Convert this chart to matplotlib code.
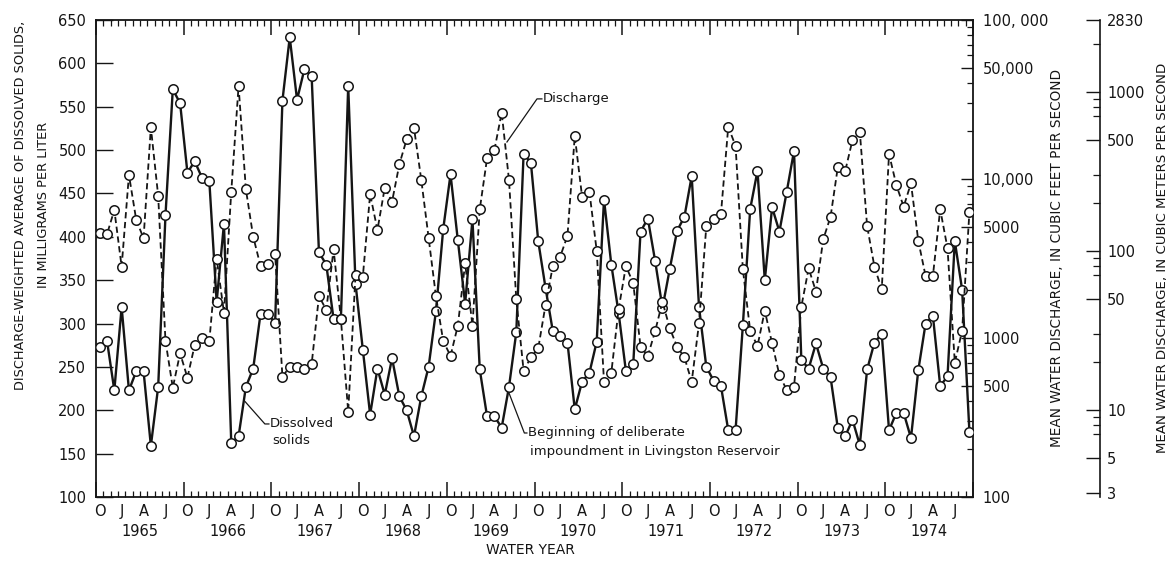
import numpy as np
import matplotlib
matplotlib.use("Agg")
import matplotlib.pyplot as plt
from matplotlib.ticker import FixedLocator, FixedFormatter, NullFormatter
import matplotlib.transforms as mtransforms

plt.rcParams['font.family'] = ['DejaVu Sans']
plt.rcParams['lines.scale_dashes'] = False

# ---------------- data ----------------
water_years = ["1965", "1966", "1967", "1968", "1969",
               "1970", "1971", "1972", "1973", "1974"]
month_letters = ["O", "J", "A", "J"]
month_letter_index = [0, 3, 6, 9]

# discharge-weighted average dissolved solids, mg/L (Oct 1964 .. Sep 1974)
dissolved_solids = [
    273, 280, 223, 319, 223, 245, 245, 159, 227, 425, 570, 554,
    474, 487, 468, 464, 325, 415, 162, 170, 227, 248, 311, 311,
    301, 557, 630, 558, 593, 585, 382, 368, 305, 305, 574, 346,
    270, 195, 248, 218, 260, 216, 200, 170, 216, 250, 314, 409,
    472, 396, 323, 420, 247, 193, 193, 180, 227, 290, 496, 485,
    395, 341, 291, 286, 278, 201, 233, 243, 279, 443, 368, 312,
    245, 253, 406, 421, 372, 318, 363, 407, 423, 470, 319, 250,
    234, 228, 177, 177, 298, 432, 476, 350, 434, 406, 452, 499,
    258, 248, 277, 248, 238, 179, 170, 189, 160, 247, 278, 288,
    177, 197, 197, 168, 246, 300, 309, 228, 239, 395, 339, 175,
]

# mean water discharge, cubic feet per second
discharge_cfs = [
    4550, 4500, 6380, 2810, 10600, 5520, 4240, 21100, 7820, 957, 487, 801,
    563, 903, 995, 957, 3160, 1443, 8320, 38400, 8610, 4340, 2840, 2920,
    3360, 571, 659, 654, 636, 686, 1837, 1500, 3611, 1312, 344, 2490,
    2430, 8010, 4780, 8810, 7200, 12370, 17770, 21020, 9860, 4275, 1837, 957,
    771, 1196, 2950, 1196, 6450, 13490, 15210, 26120, 9860, 1750, 622, 756,
    861, 1613, 2837, 3246, 4385, 18640, 7740, 8320, 3540, 531, 605, 1520,
    2837, 2208, 881, 771, 1107, 1690, 1151, 881, 756, 531, 1236, 5060,
    5580, 6026, 21320, 16130, 2704, 1111, 891, 1485, 925, 585, 471, 494,
    1574, 2744, 1960, 4178, 5790, 11950, 11220, 17580, 19860, 5060, 2808, 2024,
    14360, 9160, 6700, 9400, 4090, 2455, 2455, 6450, 3665, 700, 1111, 6230,
]

solids_ticks = [100, 150, 200, 250, 300, 350, 400, 450, 500, 550, 600, 650]
cfs_ticks = [100, 500, 1000, 5000, 10000, 50000, 100000]
cfs_tick_labels = ["100", "500", "1000", "5000", "10,000", "50,000", "100, 000"]
cms_ticks = [3, 5, 10, 50, 100, 500, 1000, 2830]
cms_tick_labels = ["3", "5", "10", "50", "100", "500", "1000", "2830"]
cms_extra_ticks = [20, 30, 200, 300, 2000]
CFS_TO_CMS = 0.0283168

n_months = len(dissolved_solids)
x = np.arange(n_months) + 0.5

ink = '#151515'

fig = plt.figure(figsize=(11.7, 5.61), dpi=100)
ax = fig.add_axes([0.0821, 0.1141, 0.7496, 0.8503])
ax2 = ax.twinx()
ax3 = ax.twinx()

# ---------------- series ----------------
ax.plot(x, dissolved_solids, '-', color=ink, lw=1.7, marker='o', ms=6.8,
        mfc='white', mec=ink, mew=1.1, zorder=3)
ax2.plot(x, discharge_cfs, color=ink, lw=1.3, ls=(0, (4.5, 2.6)), marker='o',
         ms=6.8, mfc='white', mec=ink, mew=1.1, zorder=3)

# ---------------- main axes ----------------
ax.set_xlim(0, n_months)
ax.set_ylim(100, 650)
for s in ax.spines.values():
    s.set_linewidth(1.3)
    s.set_color(ink)
ax.xaxis.set_major_locator(FixedLocator(np.arange(0, n_months + 1, 12)))
ax.xaxis.set_minor_locator(FixedLocator(np.arange(0, n_months + 1, 1)))
ax.xaxis.set_major_formatter(NullFormatter())
ax.tick_params(axis='x', which='both', direction='in', top=True, bottom=True,
               labelbottom=False, color=ink)
ax.tick_params(axis='x', which='major', length=11, width=1.1)
ax.tick_params(axis='x', which='minor', length=4.5, width=0.9)
ax.set_yticks(solids_ticks)
ax.tick_params(axis='y', which='both', direction='in', length=12, width=1.0,
               right=False, labelsize=10.5, pad=7, colors=ink)

# month letters and years
trans = mtransforms.blended_transform_factory(ax.transData, ax.transAxes)
for k, yr in enumerate(water_years):
    for lab, off in zip(month_letters, month_letter_index):
        ax.text(12 * k + off + 0.5, -0.030, lab, transform=trans, ha='center',
                va='center', fontsize=10.5, color=ink)
    ax.text(12 * k + 6, -0.072, yr, transform=trans, ha='center', va='center',
            fontsize=10.5, color=ink)

# ---------------- discharge (cfs) axis ----------------
ax2.set_yscale('log')
ax2.set_ylim(100, 100000)
ax2.yaxis.set_major_locator(FixedLocator(cfs_ticks))
ax2.yaxis.set_major_formatter(FixedFormatter(cfs_tick_labels))
minor_cfs = [m * 10 ** e for e in range(2, 5) for m in range(2, 10)
             if m * 10 ** e not in cfs_ticks]
ax2.yaxis.set_minor_locator(FixedLocator(minor_cfs))
ax2.yaxis.set_minor_formatter(NullFormatter())
ax2.tick_params(axis='y', which='major', direction='in', length=9, width=1.0,
                labelsize=10.5, pad=7, colors=ink)
ax2.tick_params(axis='y', which='minor', direction='in', length=4.5, width=0.9,
                colors=ink)
for s in ax2.spines.values():
    s.set_visible(False)

# ---------------- discharge (m3/s) axis ----------------
ax3.set_yscale('log')
ax3.set_ylim(100 * CFS_TO_CMS, 100000 * CFS_TO_CMS)
for name, s in ax3.spines.items():
    s.set_visible(name == 'right')
ax3.spines['right'].set_position(('axes', 1.145))
ax3.spines['right'].set_linewidth(1.2)
ax3.spines['right'].set_color(ink)
ax3.yaxis.set_major_locator(FixedLocator(cms_ticks))
ax3.yaxis.set_major_formatter(FixedFormatter(cms_tick_labels))
minor_cms = cms_extra_ticks + [m * 10 ** e for e in range(0, 3) for m in (7, 8, 9)]
ax3.yaxis.set_minor_locator(FixedLocator(minor_cms))
ax3.yaxis.set_minor_formatter(NullFormatter())
ax3.tick_params(axis='y', which='major', direction='in', length=10, width=1.0,
                labelsize=10.5, pad=5, colors=ink)
ax3.tick_params(axis='y', which='minor', direction='in', length=5, width=0.9,
                colors=ink)

# ---------------- annotations ----------------
ax.text(61.15, 559, "Discharge", ha='left', va='center', fontsize=9.5, color=ink)
ax.plot([61.0, 60.33, 56.22], [559, 559, 509.3], color=ink, lw=0.9)

ax.text(23.8, 185.3, "Dissolved", ha='left', va='center', fontsize=9.5, color=ink)
ax.text(24.1, 165.7, "solids", ha='left', va='center', fontsize=9.5, color=ink)
ax.plot([23.65, 23.1, 20.4], [184.2, 184.2, 209.9], color=ink, lw=0.9)

ax.text(59.1, 173.8, "Beginning of deliberate", ha='left', va='center',
        fontsize=9.5, color=ink)
ax.text(59.4, 151.9, "impoundment in Livingston Reservoir", ha='left',
        va='center', fontsize=9.5, color=ink)
ax.plot([58.95, 58.6, 56.5], [173.8, 173.8, 219.9], color=ink, lw=0.9)

# ---------------- axis titles ----------------
fig.text(0.0171, 0.6346, "DISCHARGE-WEIGHTED AVERAGE OF DISSOLVED SOLIDS,",
         rotation=90, ha='center', va='center', fontsize=9.3, color=ink)
fig.text(0.0368, 0.6346, "IN MILLIGRAMS PER LITER", rotation=90, ha='center',
         va='center', fontsize=9.3, color=ink)
fig.text(0.9034, 0.540, "MEAN WATER DISCHARGE, IN CUBIC FEET PER SECOND",
         rotation=90, ha='center', va='center', fontsize=9.8, color=ink)
fig.text(0.9935, 0.540, "MEAN WATER DISCHARGE, IN CUBIC METERS PER SECOND",
         rotation=90, ha='center', va='center', fontsize=9.6, color=ink)
fig.text(0.453, 0.0196, "WATER YEAR", ha='center', va='center', fontsize=10,
         color=ink)

fig.savefig("out.png", dpi=100, facecolor='white')
